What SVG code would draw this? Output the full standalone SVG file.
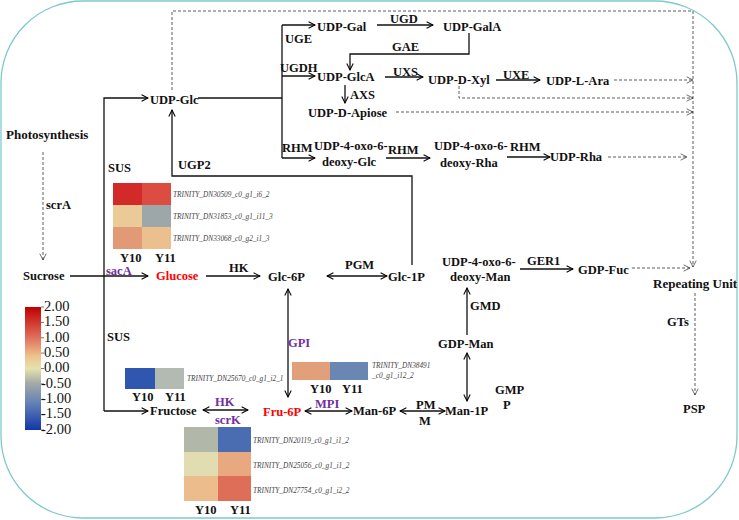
<svg xmlns="http://www.w3.org/2000/svg" width="739" height="520" viewBox="0 0 739 520">
<defs>
<marker id="ah" viewBox="0 0 10 10" refX="9" refY="5" markerWidth="8" markerHeight="8" markerUnits="userSpaceOnUse" orient="auto-start-reverse"><path d="M1,1 L9,5 L1,9" fill="none" stroke="#000" stroke-width="1.3"/></marker>
<marker id="ahd" viewBox="0 0 10 10" refX="9" refY="5" markerWidth="8" markerHeight="8" markerUnits="userSpaceOnUse" orient="auto"><path d="M1,1 L9,5 L1,9" fill="none" stroke="#333" stroke-width="0.9"/></marker>
<linearGradient id="cb" x1="0" y1="0" x2="0" y2="1">
<stop offset="0" stop-color="#c00000"/>
<stop offset="0.25" stop-color="#e0705c"/>
<stop offset="0.4" stop-color="#eec28e"/>
<stop offset="0.5" stop-color="#e6e2ac"/>
<stop offset="0.62" stop-color="#a4aaa6"/>
<stop offset="0.78" stop-color="#6482b6"/>
<stop offset="1" stop-color="#1236a8"/>
</linearGradient>
</defs>
<style>
.t{font-family:"Liberation Serif","Times New Roman",serif;font-weight:bold;font-size:12.5px;fill:#111}
.b{font-size:13px}
.p{fill:#7030a0}
.r{fill:#ff0000}
.g{font-family:"Liberation Serif","Times New Roman",serif;font-style:italic;font-size:7.3px;fill:#444}
.c{font-family:"Liberation Serif","Times New Roman",serif;font-size:14.5px;fill:#111}
.l{fill:none;stroke:#111;stroke-width:1.3}
.d{fill:none;stroke:#333;stroke-width:0.8;stroke-dasharray:3,2}
</style>
<rect x="1" y="1" width="736" height="517" rx="82" ry="82" fill="#fff" stroke="#7ec9cc" stroke-width="1.3"/>

<g id="connectors">
<path class="l" d="M104,411 V98 H148" marker-end="url(#ah)"/>
<path class="l" d="M104,411 H148" marker-end="url(#ah)"/>
<path class="l" d="M70,276 H148" marker-end="url(#ah)"/>
<path class="l" d="M206,276 H260" marker-end="url(#ah)"/>
<path class="l" d="M327,276 H387" marker-start="url(#ah)" marker-end="url(#ah)"/>
<path class="l" d="M412,265 V176 H172 V110" marker-end="url(#ah)"/>
<path class="l" d="M198,98 H282"/>
<path class="l" d="M282,25 V158"/>
<path class="l" d="M282,25 H315" marker-end="url(#ah)"/>
<path class="l" d="M282,76 H315" marker-end="url(#ah)"/>
<path class="l" d="M282,158 H315" marker-end="url(#ah)"/>
<path class="l" d="M377,25 H433" marker-end="url(#ah)"/>
<path class="l" d="M469,33 V54 H350 V70" marker-end="url(#ah)"/>
<path class="l" d="M385,77 H423" marker-end="url(#ah)"/>
<path class="l" d="M496,80 H540" marker-end="url(#ah)"/>
<path class="l" d="M345,85 V103" marker-end="url(#ah)"/>
<path class="l" d="M386,158 H430" marker-end="url(#ah)"/>
<path class="l" d="M507,157 H550" marker-end="url(#ah)"/>
<path class="l" d="M520,269 H573" marker-end="url(#ah)"/>
<path class="l" d="M467,335 V288" marker-end="url(#ah)"/>
<path class="l" d="M467,353 V401" marker-start="url(#ah)" marker-end="url(#ah)"/>
<path class="l" d="M400,411 H445" marker-start="url(#ah)" marker-end="url(#ah)"/>
<path class="l" d="M305,411 H352" marker-start="url(#ah)" marker-end="url(#ah)"/>
<path class="l" d="M288,289 V397" marker-start="url(#ah)" marker-end="url(#ah)"/>
<path class="l" d="M203,410 H248" marker-start="url(#ah)" marker-end="url(#ah)"/>

<path class="d" d="M43,152 V260" marker-end="url(#ahd)"/>
<path class="d" d="M172,90 V11 H693 V267" marker-end="url(#ahd)"/>
<path class="d" d="M614,80 H693" marker-end="url(#ahd)"/>
<path class="d" d="M459,86 V98 H693" marker-end="url(#ahd)"/>
<path class="d" d="M396,112 H693" marker-end="url(#ahd)"/>
<path class="d" d="M608,157 H687" marker-end="url(#ahd)"/>
<path class="d" d="M632,268 H690" marker-end="url(#ahd)"/>
<path class="d" d="M695,293 V395" marker-end="url(#ahd)"/>
</g>

<g id="enzymes">
<text class="t" x="46" y="209">scrA</text>
<text class="t" x="108" y="172">SUS</text>
<text class="t" x="107" y="341">SUS</text>
<text class="t p" x="106" y="275">sacA</text>
<text class="t" x="229" y="272">HK</text>
<text class="t" x="345" y="269">PGM</text>
<text class="t" x="178" y="169">UGP2</text>
<text class="t" x="285" y="43">UGE</text>
<text class="t" x="280" y="72">UGDH</text>
<text class="t" x="282" y="152">RHM</text>
<text class="t" x="390" y="23">UGD</text>
<text class="t" x="392" y="51">GAE</text>
<text class="t" x="393" y="76">UXS</text>
<text class="t" x="503" y="79">UXE</text>
<text class="t" x="350" y="99">AXS</text>
<text class="t" x="388" y="154">RHM</text>
<text class="t" x="510" y="151">RHM</text>
<text class="t" x="527" y="265">GER1</text>
<text class="t" x="470" y="310">GMD</text>
<text class="t" x="495" y="394">GMP</text>
<text class="t" x="503" y="409">P</text>
<text class="t" x="416" y="409">PM</text>
<text class="t" x="419" y="425">M</text>
<text class="t p" x="315" y="408">MPI</text>
<text class="t p" x="288" y="347">GPI</text>
<text class="t p" x="215" y="406">HK</text>
<text class="t p" x="215" y="424">scrK</text>
<text class="t" x="667" y="326">GTs</text>
</g>

<g id="n-photosynthesis"><text class="t b" x="6" y="139">Photosynthesis</text></g>
<g id="n-sucrose"><text class="t" x="23" y="280">Sucrose</text></g>
<g id="n-glucose"><text class="t r" x="156" y="280">Glucose</text></g>
<g id="n-glc6p"><text class="t" x="268" y="281">Glc-6P</text></g>
<g id="n-glc1p"><text class="t" x="388" y="281">Glc-1P</text></g>
<g id="n-udpglc"><text class="t" x="150" y="104">UDP-Glc</text></g>
<g id="n-udpgal"><text class="t" x="317" y="31">UDP-Gal</text></g>
<g id="n-udpgala"><text class="t" x="443" y="31">UDP-GalA</text></g>
<g id="n-udpglca"><text class="t" x="317" y="81">UDP-GlcA</text></g>
<g id="n-udpxyl"><text class="t" x="428" y="84">UDP-D-Xyl</text></g>
<g id="n-udpara"><text class="t" x="546" y="85">UDP-L-Ara</text></g>
<g id="n-apiose"><text class="t" x="308" y="117">UDP-D-Apiose</text></g>
<g id="n-oxoglc"><text class="t" x="314" y="150">UDP-4-oxo-6-</text><text class="t" x="322" y="166">deoxy-Glc</text></g>
<g id="n-oxorha"><text class="t" x="434" y="150">UDP-4-oxo-6-</text><text class="t" x="440" y="167">deoxy-Rha</text></g>
<g id="n-udprha"><text class="t" x="550" y="161">UDP-Rha</text></g>
<g id="n-oxoman"><text class="t" x="442" y="266">UDP-4-oxo-6-</text><text class="t" x="450" y="281">deoxy-Man</text></g>
<g id="n-gdpfuc"><text class="t" x="578" y="274">GDP-Fuc</text></g>
<g id="n-gdpman"><text class="t" x="438" y="348">GDP-Man</text></g>
<g id="n-man1p"><text class="t" x="445" y="415">Man-1P</text></g>
<g id="n-man6p"><text class="t" x="353" y="415">Man-6P</text></g>
<g id="n-fru6p"><text class="t r" x="263" y="416">Fru-6P</text></g>
<g id="n-fructose"><text class="t" x="150" y="415">Fructose</text></g>
<g id="n-repeat"><text class="t b" x="653" y="288">Repeating Unit</text></g>
<g id="n-psp"><text class="t" x="683" y="413">PSP</text></g>

<g id="heat-sus">
<rect x="113" y="183" width="29" height="22" fill="#d22a28"/>
<rect x="142" y="183" width="29" height="22" fill="#dc4c40"/>
<rect x="113" y="205" width="29" height="22" fill="#ebca98"/>
<rect x="142" y="205" width="29" height="22" fill="#9da7aa"/>
<rect x="113" y="227" width="29" height="22" fill="#e29a76"/>
<rect x="142" y="227" width="29" height="22" fill="#ebc08e"/>
<text class="g" x="173" y="197">TRINITY_DN30509_c0_g1_i6_2</text>
<text class="g" x="173" y="219">TRINITY_DN31853_c0_g1_i11_3</text>
<text class="g" x="173" y="241">TRINITY_DN33068_c0_g2_i1_3</text>
<text class="t" x="120" y="262">Y10</text>
<text class="t" x="155" y="262">Y11</text>
</g>

<g id="heat-fru">
<rect x="125" y="368" width="30" height="21" fill="#2f57b0"/>
<rect x="155" y="368" width="29" height="21" fill="#b3bab2"/>
<text class="g" x="187" y="381">TRINITY_DN25670_c0_g1_i2_1</text>
<text class="t" x="132" y="401">Y10</text>
<text class="t" x="165" y="401">Y11</text>
</g>

<g id="heat-gpi">
<rect x="292" y="362" width="38" height="18" fill="#e2a07a"/>
<rect x="330" y="362" width="38" height="18" fill="#6a86b2"/>
<text class="g" x="372" y="368">TRINITY_DN38491</text>
<text class="g" x="372" y="378">_c0_g1_i12_2</text>
<text class="t" x="310" y="393">Y10</text>
<text class="t" x="342" y="393">Y11</text>
</g>

<g id="heat-hk">
<rect x="184" y="427" width="34" height="25" fill="#b1b8aa"/>
<rect x="218" y="427" width="33" height="25" fill="#4a6cb0"/>
<rect x="184" y="452" width="34" height="24" fill="#e1ddb0"/>
<rect x="218" y="452" width="33" height="24" fill="#e8a880"/>
<rect x="184" y="476" width="34" height="25" fill="#ecbc8c"/>
<rect x="218" y="476" width="33" height="25" fill="#df6e58"/>
<text class="g" x="253" y="443">TRINITY_DN20119_c0_g1_i1_2</text>
<text class="g" x="253" y="468">TRINITY_DN25056_c0_g1_i1_2</text>
<text class="g" x="253" y="493">TRINITY_DN27754_c0_g1_i2_2</text>
<text class="t" x="195" y="514">Y10</text>
<text class="t" x="230" y="514">Y11</text>
</g>

<g id="colorbar">
<rect x="25" y="307" width="16" height="123" fill="url(#cb)"/>
<path d="M41,307 h3 M41,322.4 h3 M41,337.8 h3 M41,353.1 h3 M41,368.5 h3 M41,383.9 h3 M41,399.3 h3 M41,414.6 h3 M41,430 h3" stroke="#555" stroke-width="0.8"/>
<text class="c" x="44" y="311">2.00</text>
<text class="c" x="44" y="326">1.50</text>
<text class="c" x="44" y="342">1.00</text>
<text class="c" x="44" y="357">0.50</text>
<text class="c" x="44" y="372">0.00</text>
<text class="c" x="41" y="388">-0.50</text>
<text class="c" x="41" y="403">-1.00</text>
<text class="c" x="41" y="418">-1.50</text>
<text class="c" x="41" y="434">-2.00</text>
</g>
</svg>
